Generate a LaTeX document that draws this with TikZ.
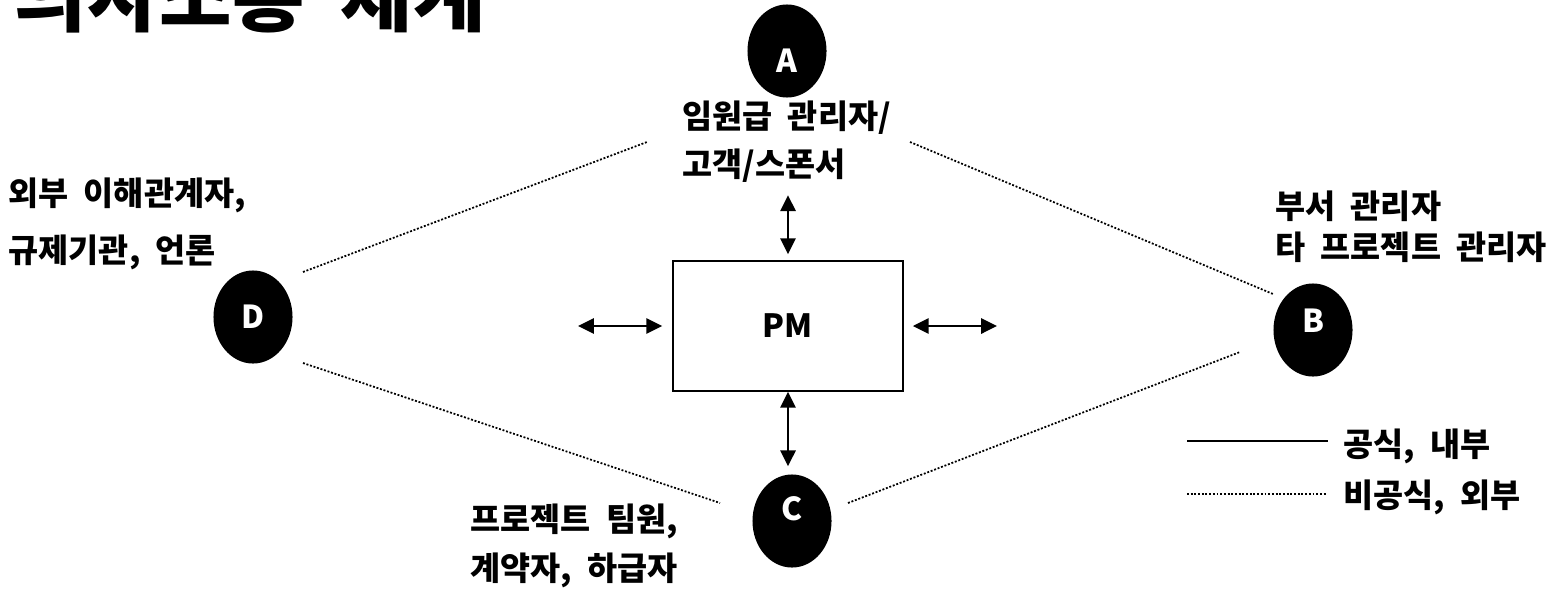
\documentclass[tikz,border=0pt]{standalone}
\usepackage{fontspec}
\setmainfont{Noto Sans CJK KR}[WordSpace=2]
\usetikzlibrary{shapes.geometric,arrows.meta}

\begin{document}
\begin{tikzpicture}[x=0.01cm, y=-0.01cm, >={Triangle[length=4.5pt,width=4.3pt]},
                    party/.style={ellipse, fill=black, text=white, inner sep=0pt,
                                  minimum width=0.79cm, minimum height=0.93cm,
                                  font=\fontsize{9pt}{10pt}\selectfont\bfseries,
                                  text height=6.3pt, text depth=0pt},
                    lbl/.style={font=\fontsize{9.3pt}{#1}\selectfont\bfseries,
                                align=left, inner sep=0pt, anchor=north west},
                    informal/.style={line width=0.5pt, dash pattern=on 0.55pt off 0.5pt},
                    talk/.style={<->, line width=0.7pt}]
  \useasboundingbox (0,0) rectangle (1561,594);
  \clip (0,0) rectangle (1561,594);
  \node[anchor=base west, inner sep=0pt,
        font=\fontsize{22.4pt}{25pt}\selectfont\bfseries] (title) at (14,25) {의사소통 체계};
  \node[party, text height=12pt] (A) at (787,51) {A};
  \node[party, text depth=5.1pt] (B) at (1313,330) {B};
  \node[party, text depth=6.8pt] (C) at (792,521) {C};
  \node[party] (D) at (253,317) {D};
  \node[draw, line width=0.45pt, minimum width=2.3cm, minimum height=1.3cm,
        font=\fontsize{9.1pt}{10pt}\selectfont\bfseries] (pm) at (788,326) {PM};
  \node[lbl=13.7pt] (atxt) at (682,100) {임원급 관리자/\\고객/스폰서};
  \node[lbl=11.7pt] (btxt) at (1275,190) {부서 관리자\\타 프로젝트 관리자};
  \node[lbl=13.9pt] (ctxt) at (470,503) {프로젝트 팀원,\\계약자, 하급자};
  \node[lbl=16.2pt] (dtxt) at (8,177) {외부 이해관계자,\\규제기관, 언론};
  \coordinate (da) at (303,272); \coordinate (ad) at (647,142);
  \coordinate (ab) at (910,142); \coordinate (ba) at (1273,294);
  \coordinate (dc) at (303,363); \coordinate (cd) at (720,503);
  \coordinate (cb) at (848,503); \coordinate (bc) at (1240,352);
  \draw[informal] (da) -- (ad);
  \draw[informal] (ab) -- (ba);
  \draw[informal] (dc) -- (cd);
  \draw[informal] (cb) -- (bc);
  \coordinate (lfree) at (578,326);
  \coordinate (rfree) at (997,326);
  \draw[talk] ([yshift=-0.12cm]pm.north |- atxt.south) -- ([yshift=0.06cm]pm.north);
  \draw[talk] (pm.south) -- ([yshift=0.075cm]pm.south |- C.north);
  \draw[talk] (lfree) -- ([xshift=-0.1cm]pm.west);
  \draw[talk] ([xshift=0.09cm]pm.east) -- (rfree);
  \draw[line width=0.6pt] (1187,441) -- (1328,441);
  \draw[informal, line width=0.6pt] (1187,494) -- (1327,494);
  \node[lbl=12pt, anchor=west] (legformal) at (1343,446) {공식, 내부};
  \node[lbl=12pt, anchor=west] (leginformal) at (1343,497) {비공식, 외부};
\end{tikzpicture}
\end{document}
